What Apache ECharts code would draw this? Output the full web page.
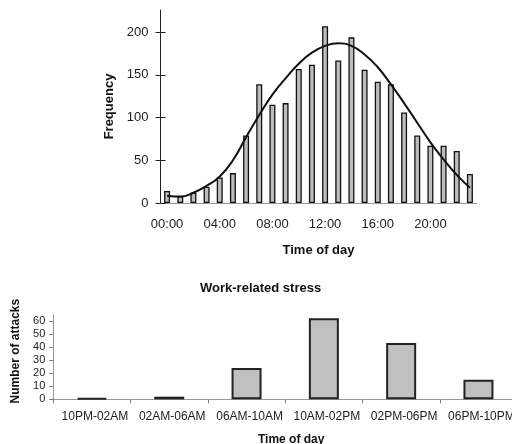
<!DOCTYPE html>
<html><head><meta charset="utf-8">
<script src="https://cdn.jsdelivr.net/npm/echarts@6/dist/echarts.min.js"></script>
<style>html,body{margin:0;padding:0;background:#fff}#c{width:512px;height:444px}</style>
</head><body><div id="c"></div>
<script>
const hours = ['00:00','01:00','02:00','03:00','04:00','05:00','06:00','07:00','08:00','09:00','10:00','11:00','12:00','13:00','14:00','15:00','16:00','17:00','18:00','19:00','20:00','21:00','22:00','23:00'];
const frequency = [14,8,12,19,30,35,79,139,115,117,157,162,207,167,194,156,142,139,106,79,67,67,61,34];
const fittedCurve = [8.5,7.5,12,20,31,50,77,103,127,146,163,176,184,187,184,174,159,139,117,94,71,51,33,18];
const freqTicks = [0,50,100,150,200];
const periods = ['10PM-02AM','02AM-06AM','06AM-10AM','10AM-02PM','02PM-06PM','06PM-10PM'];
const attacks = [1,2,24,62,43,15];
const attackTicks = [0,10,20,30,40,50,60];

const FONT = 'Liberation Sans, Arial, sans-serif';
const chart = echarts.init(document.getElementById('c'), null, {renderer:'canvas'});
chart.setOption({
  animation:false,
  backgroundColor:'#fff',
  title:{text:'Work-related stress', left:195, top:277,
    textStyle:{fontFamily:FONT, fontSize:13, fontWeight:'bold', color:'#111'}},
  grid:[
    {left:160.5, right:35.5, top:10, bottom:241, containLabel:false, outerBoundsMode:'none'},
    {left:53.3, width:463.8, top:315, bottom:44.7, containLabel:false, outerBoundsMode:'none'}
  ],
  xAxis:[
    {type:'category', gridIndex:0, data:hours, boundaryGap:true,
      axisLine:{lineStyle:{color:'#999', width:1}}, axisTick:{show:false},
      axisLabel:{interval:3, margin:15, fontFamily:FONT, fontSize:13, color:'#222'},
      name:'Time of day', nameLocation:'middle', nameGap:41,
      nameTextStyle:{fontFamily:FONT, fontSize:13, fontWeight:'bold', color:'#111'}},
    {type:'category', gridIndex:1, data:periods, boundaryGap:true,
      axisLine:{lineStyle:{color:'#999', width:1}},
      axisTick:{show:true, alignWithLabel:false, length:4, lineStyle:{color:'#777'}},
      axisLabel:{interval:0, margin:11, padding:[0,0,0,6], hideOverlap:false, fontFamily:FONT, fontSize:12, color:'#222'},
      name:'Time of day', nameLocation:'middle', nameGap:34,
      nameTextStyle:{fontFamily:FONT, fontSize:12, fontWeight:'bold', color:'#111', padding:[0,0,0,12]}}
  ],
  yAxis:[
    {type:'value', gridIndex:0, min:0, max:226,
      axisLine:{show:true, lineStyle:{color:'#222', width:1}},
      axisTick:{show:true, length:5, customValues:freqTicks, lineStyle:{color:'#222'}},
      axisLabel:{customValues:freqTicks, margin:12, fontFamily:FONT, fontSize:13, color:'#222'},
      splitLine:{show:false},
      name:'Frequency', nameLocation:'middle', nameGap:42,
      nameTextStyle:{fontFamily:FONT, fontSize:13, fontWeight:'bold', color:'#111'}},
    {type:'value', gridIndex:0, min:0, max:226, position:'left',
      axisLine:{show:false},
      axisTick:{show:true, inside:true, length:5, customValues:freqTicks, lineStyle:{color:'#222'}},
      axisLabel:{show:false}, splitLine:{show:false}},
    {type:'value', gridIndex:1, min:0, max:64.4,
      axisLine:{show:true, lineStyle:{color:'#999', width:1}},
      axisTick:{show:true, length:4, customValues:attackTicks, lineStyle:{color:'#777'}},
      axisLabel:{customValues:attackTicks, margin:8, fontFamily:FONT, fontSize:11, color:'#222'},
      splitLine:{show:false},
      name:'Number of attacks', nameLocation:'middle', nameGap:30,
      nameTextStyle:{fontFamily:FONT, fontSize:12, fontWeight:'bold', color:'#111', padding:[0,0,0,12]}}
  ],
  series:[
    {type:'bar', xAxisIndex:0, yAxisIndex:0, data:frequency, barWidth:6,
      itemStyle:{color:'#bdbdbd', borderColor:'#111', borderWidth:1.3}},
    {type:'line', xAxisIndex:0, yAxisIndex:0, data:fittedCurve, smooth:0.5,
      showSymbol:false, lineStyle:{color:'#111', width:2}, z:5},
    {type:'bar', xAxisIndex:1, yAxisIndex:2, data:attacks, barWidth:30,
      itemStyle:{color:'#c0c0c0', borderColor:'#222', borderWidth:2}}
  ]
});
</script></body></html>
